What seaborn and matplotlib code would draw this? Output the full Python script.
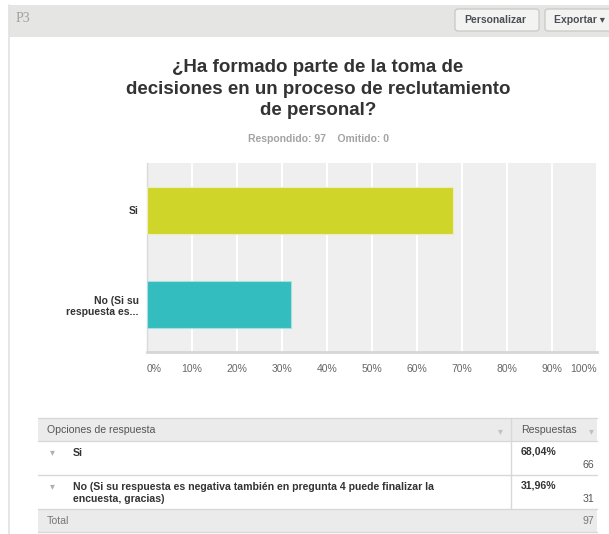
import matplotlib
matplotlib.use('Agg')
import matplotlib.pyplot as plt
import seaborn as sns
import pandas as pd
from matplotlib.patches import Rectangle, FancyBboxPatch
from matplotlib.lines import Line2D

# data
categories = ['Si', 'No (Si su\nrespuesta es...']
percents = [68.04, 31.96]
counts = [66, 31]
bar_colors = ['#d0d52a', '#33bdbf']
table_labels = ['Si', 'No (Si su respuesta es negativa también en pregunta 4 puede finalizar la\nencuesta, gracias)']
pct_labels = ['68,04%', '31,96%']
xticks = [0, 10, 20, 30, 40, 50, 60, 70, 80, 90, 100]
answered = 97
skipped = 0

W, H = 609, 534
sns.set_theme(style='white')
plt.rcParams['font.family'] = ['Liberation Sans', 'DejaVu Sans']

fig = plt.figure(figsize=(W / 100, H / 100), dpi=100)
fig.patch.set_facecolor('white')


def fx(x):
    return x / W


def fy(y):
    return 1 - y / H


def rect(x0, y0, x1, y1, color, **kw):
    fig.patches.append(Rectangle((fx(x0), fy(y1)), fx(x1) - fx(x0), fy(y0) - fy(y1),
                                 transform=fig.transFigure, facecolor=color, **kw))


def hline(x0, x1, y, color='#dcdcdc', lw=1):
    fig.lines.append(Line2D([fx(x0), fx(x1)], [fy(y), fy(y)], transform=fig.transFigure, color=color, lw=lw))


def vline(x, y0, y1, color='#dcdcdc', lw=1):
    fig.lines.append(Line2D([fx(x), fx(x)], [fy(y0), fy(y1)], transform=fig.transFigure, color=color, lw=lw))


# header bar
rect(9, 5, W, 37, '#e5e5e3', edgecolor='none')
vline(9, 5, H, color='#e2e2e2', lw=1.2)
fig.text(fx(16), fy(19), 'P3', fontsize=10, color='#a0a0a0', va='center', family=['Liberation Serif'])

for x0, x1, txt in [(455, 539, 'Personalizar'), (545, 620, 'Exportar \u25be')]:
    fig.patches.append(FancyBboxPatch((fx(x0), fy(31)), fx(x1) - fx(x0), fy(9) - fy(31),
                                      boxstyle='round,pad=0,rounding_size=0.005',
                                      transform=fig.transFigure, facecolor='#f3f3f1',
                                      edgecolor='#c4c4c4', lw=0.8))
    fig.text(fx(x0 + 9), fy(20), txt, fontsize=7.5, fontweight='bold', color='#4a4f57', va='center')

# title
fig.text(fx(318), fy(89), '¿Ha formado parte de la toma de\ndecisiones en un proceso de reclutamiento\nde personal?',
         ha='center', va='center', fontsize=13.5, fontweight='bold', color='#333333', linespacing=1.32)
fig.text(fx(318), fy(139), f'Respondido: {answered}    Omitido: {skipped}', ha='center', va='center',
         fontsize=7.5, fontweight='bold', color='#a3a3a3')

# bar chart
ax = fig.add_axes([fx(147), fy(352), fx(597) - fx(147), fy(163) - fy(352)])
ax.set_facecolor('#efefef')
df = pd.DataFrame({'answer': categories, 'pct': percents})
sns.barplot(data=df, x='pct', y='answer', hue='answer', palette=bar_colors, legend=False,
            saturation=1, width=0.5, orient='h', edgecolor='#e8eec0', linewidth=0.8, ax=ax, zorder=3)
ax.patches[1].set_edgecolor('#a8e0e0')
ax.set_xlim(0, 100)
ax.set_xticks(xticks)
ax.xaxis.grid(True, color='white', lw=1.5, zorder=0)
ax.set_axisbelow(True)
ax.set_xticklabels([f'{t}%' for t in xticks], fontsize=7.5, color='#666666')
labs = ax.get_xticklabels()
labs[0].set_ha('left')
labs[-1].set_ha('right')
ax.tick_params(axis='x', length=0, pad=9)
ax.tick_params(axis='y', length=0, pad=6)
for lab in ax.get_yticklabels():
    lab.set_fontweight('bold')
    lab.set_fontsize(7.5)
    lab.set_color('#333333')
    lab.set_linespacing(1.1)
ax.set_xlabel('')
ax.set_ylabel('')
for s in ['top', 'right']:
    ax.spines[s].set_visible(False)
ax.spines['left'].set_color('#dadada')
ax.spines['left'].set_linewidth(1)
ax.spines['bottom'].set_color('#d6d6d6')
ax.spines['bottom'].set_linewidth(2)

# table
tx0, tx1, tsplit = 38, 597, 511
rect(tx0, 418, tx1, 441, '#ebebeb', edgecolor='none')
rect(tx0, 509, tx1, 532, '#ebebeb', edgecolor='none')
for y in [418, 441, 475, 509, 532]:
    hline(tx0, tx1, y, color='#d8d8d8', lw=1)
vline(tsplit, 418, 509, color='#d8d8d8', lw=1)

fs = 7.6
fig.text(fx(47), fy(430), 'Opciones de respuesta', fontsize=fs, color='#555555', va='center')
fig.text(fx(521), fy(430), 'Respuestas', fontsize=fs, color='#555555', va='center')
fig.text(fx(500), fy(431), '\u25be', fontsize=7, color='#c0c0c0', va='center', ha='center', family=['DejaVu Sans'])
fig.text(fx(591), fy(431), '\u25be', fontsize=7, color='#c0c0c0', va='center', ha='center', family=['DejaVu Sans'])

row_tops = [441, 475]
for i, top in enumerate(row_tops):
    fig.text(fx(52), fy(top + 11), '\u25be', fontsize=7, color='#b0b0b0', va='center', ha='center', family=['DejaVu Sans'])
    fig.text(fx(73), fy(top + 7), table_labels[i], fontsize=fs, fontweight='bold', color='#333333',
             va='top', linespacing=1.2)
    fig.text(fx(521), fy(top + 11), pct_labels[i], fontsize=fs, fontweight='bold', color='#333333', va='center')
    fig.text(fx(594), fy(top + 24), str(counts[i]), fontsize=fs, color='#555555', va='center', ha='right')

fig.text(fx(47), fy(521), 'Total', fontsize=fs, color='#777777', va='center')
fig.text(fx(594), fy(521), str(sum(counts)), fontsize=fs, color='#777777', va='center', ha='right')

fig.savefig('out.png', dpi=100, facecolor='white')
